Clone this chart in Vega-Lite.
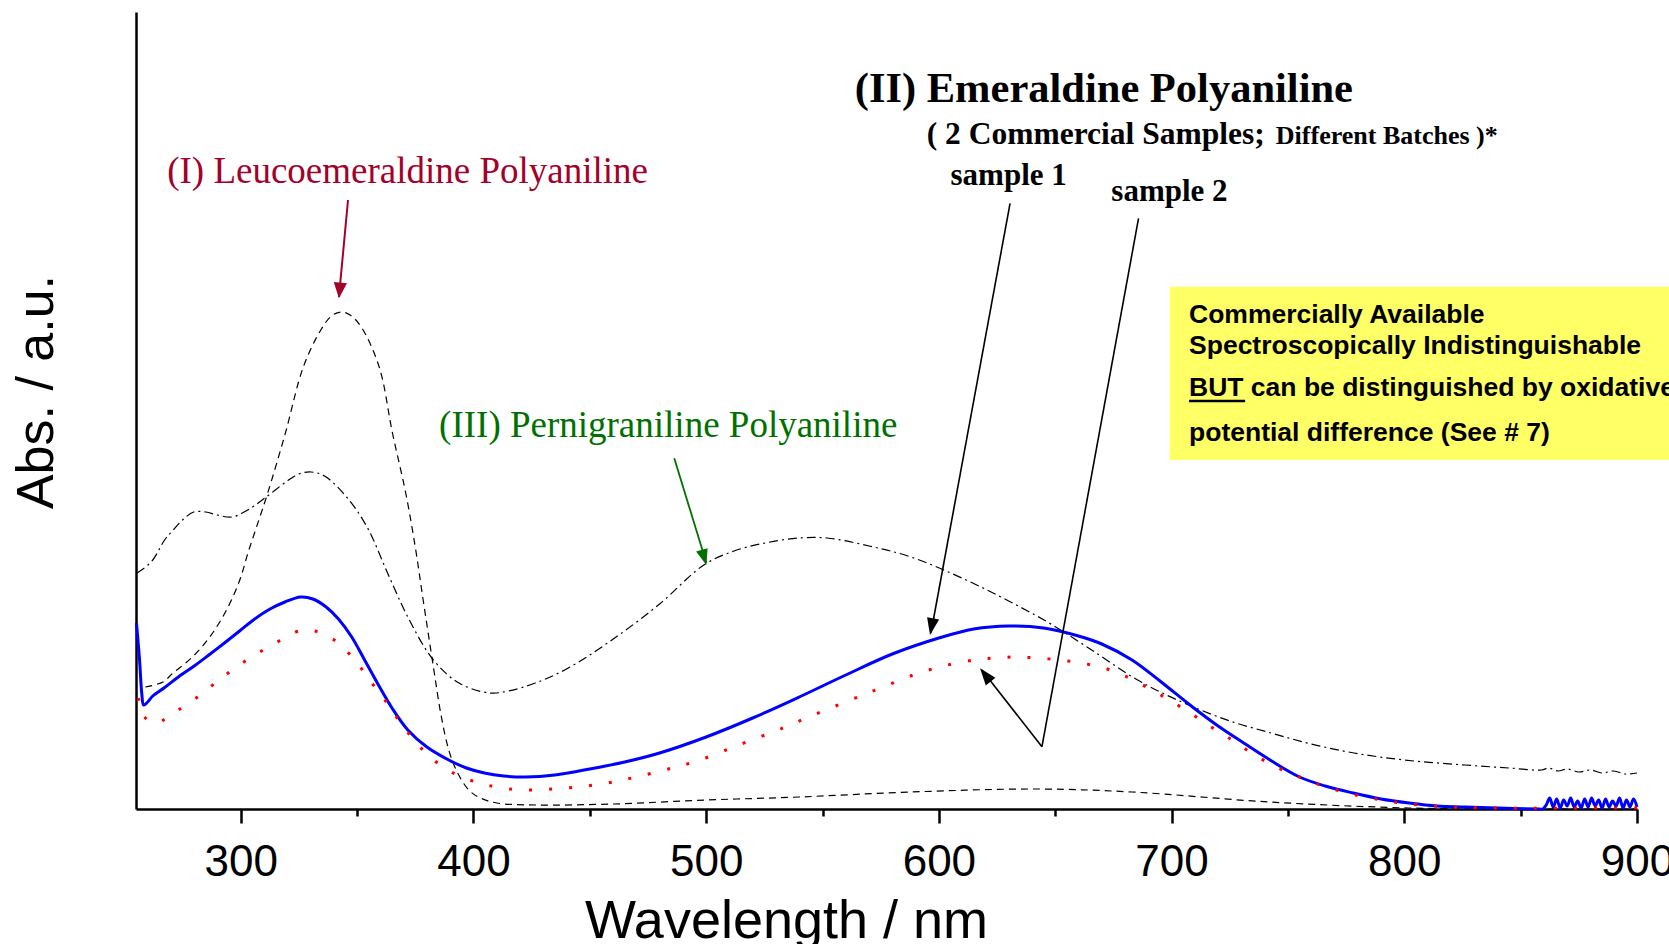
{
  "$schema": "https://vega.github.io/schema/vega-lite/v6.json",
  "width": 1501,
  "height": 797,
  "autosize": {"type": "none"},
  "padding": {"left": 136, "top": 12, "right": 32, "bottom": 135},
  "background": "white",
  "config": {"view": {"stroke": null}},
  "datasets": {
    "leuco": [
      {"x":259,"y":122},{"x":266.6,"y":127},{"x":270.9,"y":136},{"x":278.8,"y":151},{"x":286.7,"y":172},{"x":293.9,"y":199},{"x":299.6,"y":229},{"x":303.1,"y":256},{"x":306.5,"y":280},{"x":311.6,"y":316},{"x":319.2,"y":376},{"x":326.9,"y":442},{"x":334.4,"y":479},{"x":339,"y":493},{"x":343,"y":497},{"x":347,"y":494},{"x":351.8,"y":482},{"x":359.5,"y":442},{"x":365.2,"y":376},{"x":370.9,"y":316},{"x":375,"y":262},{"x":378.4,"y":209},{"x":382.8,"y":142},{"x":386,"y":95},{"x":389.4,"y":59},{"x":393,"y":37},{"x":398,"y":19},{"x":403,"y":11},{"x":410,"y":6},{"x":426.6,"y":4},{"x":460,"y":5},{"x":500,"y":9},{"x":540,"y":12},{"x":588,"y":17},{"x":642,"y":20},{"x":683,"y":17},{"x":742,"y":7},{"x":802,"y":1},{"x":850,"y":0},{"x":900,"y":0}
    ],
    "pern": [
      {"x":255.5,"y":236},{"x":258,"y":240},{"x":262.2,"y":249},{"x":267.3,"y":269},{"x":271,"y":279},{"x":275,"y":289},{"x":279.8,"y":297},{"x":285,"y":297},{"x":290,"y":294},{"x":296.2,"y":292},{"x":303,"y":299},{"x":310.4,"y":311},{"x":320,"y":328},{"x":325,"y":335},{"x":330.2,"y":337},{"x":336,"y":333},{"x":345.5,"y":312},{"x":354.3,"y":282},{"x":363.1,"y":236},{"x":371.8,"y":192},{"x":382.8,"y":149},{"x":393.8,"y":126},{"x":406.9,"y":116},{"x":415,"y":118},{"x":426.6,"y":126},{"x":440,"y":140},{"x":459.5,"y":169},{"x":480,"y":205},{"x":499,"y":244},{"x":512,"y":258},{"x":525.3,"y":266},{"x":540,"y":271},{"x":552,"y":271},{"x":570,"y":263},{"x":588,"y":252},{"x":611.7,"y":229},{"x":630,"y":208},{"x":647.4,"y":186},{"x":665,"y":160},{"x":683.2,"y":132},{"x":696,"y":116},{"x":709.4,"y":102},{"x":725,"y":88},{"x":742.7,"y":76},{"x":760,"y":65},{"x":778.4,"y":56},{"x":800,"y":49},{"x":826.1,"y":44},{"x":845,"y":41},{"x":859,"y":39},{"x":862,"y":41},{"x":866,"y":38},{"x":870,"y":40},{"x":875,"y":37},{"x":880,"y":39},{"x":885,"y":36},{"x":890,"y":38},{"x":895,"y":35},{"x":900,"y":36}
    ],
    "s1": [
      {"x":255.2,"y":186},{"x":256.5,"y":150},{"x":257.5,"y":115},{"x":258.3,"y":104},{"x":260,"y":107},{"x":262.2,"y":113},{"x":267,"y":121},{"x":273.2,"y":132},{"x":280,"y":143},{"x":286.3,"y":154},{"x":293,"y":166},{"x":299.5,"y":178},{"x":306,"y":190},{"x":312.6,"y":200},{"x":319,"y":207},{"x":325.8,"y":212},{"x":331,"y":210},{"x":336.7,"y":202},{"x":342,"y":190},{"x":347.7,"y":172},{"x":353,"y":150},{"x":358.7,"y":126},{"x":365,"y":101},{"x":371.8,"y":79},{"x":380,"y":62},{"x":389.4,"y":49},{"x":397,"y":41},{"x":404.7,"y":36},{"x":413,"y":33},{"x":422.3,"y":32},{"x":435,"y":34},{"x":450,"y":40},{"x":465,"y":47},{"x":480,"y":56},{"x":500,"y":72},{"x":520,"y":91},{"x":540,"y":112},{"x":560,"y":134},{"x":580,"y":155},{"x":600,"y":171},{"x":615,"y":180},{"x":630,"y":183},{"x":645,"y":181},{"x":660,"y":173},{"x":670,"y":165},{"x":683,"y":149},{"x":695,"y":128},{"x":709,"y":102},{"x":720,"y":83},{"x":731,"y":66},{"x":743,"y":48},{"x":755,"y":32},{"x":766,"y":23},{"x":778,"y":16},{"x":790,"y":10},{"x":802,"y":6},{"x":814,"y":3},{"x":826,"y":2},{"x":840,"y":1},{"x":858,"y":0},
      {"x":859.5,"y":0},{"x":861,"y":4},{"x":862.5,"y":11},{"x":864,"y":2},{"x":865.5,"y":10},{"x":867,"y":1},{"x":868.5,"y":9},{"x":870,"y":3},{"x":871.5,"y":11},{"x":873,"y":2},{"x":874.5,"y":8},{"x":876,"y":1},{"x":877.5,"y":10},{"x":879,"y":2},{"x":880.5,"y":11},{"x":882,"y":3},{"x":883.5,"y":9},{"x":885,"y":1},{"x":886.5,"y":10},{"x":888,"y":2},{"x":889.5,"y":8},{"x":891,"y":3},{"x":892.5,"y":11},{"x":894,"y":1},{"x":895.5,"y":9},{"x":897,"y":2},{"x":898.5,"y":10},{"x":900,"y":2}
    ],
    "s2": [
      {"x":256,"y":111},{"x":258,"y":94},{"x":261,"y":88},{"x":264.4,"y":86},{"x":268,"y":91},{"x":273.2,"y":99},{"x":282,"y":113},{"x":289.6,"y":127},{"x":297,"y":140},{"x":306,"y":154},{"x":315,"y":166},{"x":323.6,"y":177},{"x":328,"y":179},{"x":332,"y":178},{"x":337,"y":173},{"x":342,"y":166},{"x":350,"y":146},{"x":355,"y":130},{"x":361,"y":112},{"x":366,"y":95},{"x":371,"y":79},{"x":377,"y":62},{"x":384,"y":47},{"x":393,"y":34},{"x":402.5,"y":26},{"x":410,"y":22},{"x":421,"y":19},{"x":440,"y":21},{"x":455,"y":25},{"x":468,"y":31},{"x":482,"y":39},{"x":496,"y":48},{"x":514,"y":64},{"x":533,"y":81},{"x":543,"y":91},{"x":562,"y":109},{"x":575,"y":121},{"x":589,"y":134},{"x":602,"y":143},{"x":615,"y":149},{"x":624,"y":151},{"x":633,"y":152},{"x":642,"y":151},{"x":652,"y":149},{"x":661,"y":146},{"x":671,"y":141},{"x":680,"y":133},{"x":690,"y":121},{"x":699,"y":109},{"x":708,"y":96},{"x":717,"y":82},{"x":726,"y":69},{"x":735,"y":55},{"x":745,"y":42},{"x":755,"y":32},{"x":764,"y":24},{"x":774,"y":17},{"x":783,"y":12},{"x":793,"y":8},{"x":802,"y":5},{"x":820,"y":2},{"x":838,"y":1},{"x":900,"y":1}
    ]
  },
  "encoding": {
    "x": {
      "field": "x", "type": "quantitative",
      "scale": {"domain": [255, 900], "nice": false, "zero": false},
      "axis": {
        "title": "Wavelength / nm",
        "values": [300,350,400,450,500,550,600,650,700,750,800,850,900],
        "labelExpr": "datum.value % 100 === 0 ? datum.label : ''",
        "tickSize": {"condition": {"test": "datum.value % 100 === 0", "value": 14}, "value": 7},
        "tickWidth": 2.5, "tickColor": "black",
        "domainColor": "black", "domainWidth": 2.5,
        "grid": false,
        "labelFont": "Liberation Sans", "labelFontSize": 44, "labelColor": "black",
        "labelPadding": 17, "labelFlush": false, "labelOverlap": false,
        "titleFont": "Liberation Sans", "titleFontSize": 54, "titleFontWeight": "normal", "titleColor": "black",
        "titleX": 650, "titleY": 128, "titleBaseline": "alphabetic", "titleAlign": "center"
      }
    },
    "y": {
      "field": "y", "type": "quantitative",
      "scale": {"domain": [0, 797], "nice": false, "zero": false},
      "axis": {
        "title": "Abs. / a.u.",
        "ticks": false, "labels": false, "grid": false,
        "domainColor": "black", "domainWidth": 2.5,
        "titleFont": "Liberation Sans", "titleFontSize": 52, "titleFontWeight": "normal", "titleColor": "black",
        "titleX": -84, "titleY": 379.5, "titleAngle": 270, "titleBaseline": "alphabetic", "titleAlign": "center"
      }
    }
  },
  "layer": [
    {
      "data": {"values": [{"x": 699.2, "x2": 930, "y": 349, "y2": 522.3}]},
      "mark": {"type": "rect", "color": "#ffff66"},
      "encoding": {"x2": {"field": "x2"}, "y2": {"field": "y2"}}
    },
    {
      "data": {"name": "leuco"},
      "mark": {"type": "line", "color": "black", "strokeWidth": 1.2, "strokeDash": [7, 5], "interpolate": "catmull-rom"}
    },
    {
      "data": {"name": "pern"},
      "mark": {"type": "line", "color": "black", "strokeWidth": 1.2, "strokeDash": [9, 4, 2, 4], "interpolate": "catmull-rom"}
    },
    {
      "data": {"name": "s1"},
      "mark": {"type": "line", "color": "#0000ff", "strokeWidth": 3, "interpolate": "catmull-rom"}
    },
    {
      "data": {"name": "s2"},
      "mark": {"type": "line", "color": "#ff0000", "strokeWidth": 3, "strokeDash": [3, 17], "interpolate": "catmull-rom"}
    },
    {
      "data": {"values": [{"x": 346.1, "y": 609, "x2": 342.2, "y2": 512}]},
      "mark": {"type": "rule", "color": "#a3002a", "strokeWidth": 2},
      "encoding": {"x2": {"field": "x2"}, "y2": {"field": "y2"}}
    },
    {
      "data": {"values": [{"x": 486.3, "y": 350.7, "x2": 500.1, "y2": 246}]},
      "mark": {"type": "rule", "color": "#007000", "strokeWidth": 1.8},
      "encoding": {"x2": {"field": "x2"}, "y2": {"field": "y2"}}
    },
    {
      "data": {"values": [
        {"x": 630.6, "y": 605.7, "x2": 596.6, "y2": 176},
        {"x": 685.8, "y": 590.7, "x2": 644.3, "y2": 62.3},
        {"x": 644.3, "y": 62.3, "x2": 618.5, "y2": 139}
      ]},
      "mark": {"type": "rule", "color": "black", "strokeWidth": 1.6},
      "encoding": {"x2": {"field": "x2"}, "y2": {"field": "y2"}}
    },
    {
      "data": {"values": [{"x": 342.2, "y": 510.7}]},
      "mark": {"type": "point", "shape": "M0,0L-0.42,1L0.42,1Z", "size": 1000, "filled": true, "opacity": 1, "color": "#a3002a", "angle": 185.2, "strokeWidth": 0}
    },
    {
      "data": {"values": [{"x": 500.1, "y": 244}]},
      "mark": {"type": "point", "shape": "M0,0L-0.38,1L0.38,1Z", "size": 1000, "filled": true, "opacity": 1, "color": "#007000", "angle": 163.3, "strokeWidth": 0}
    },
    {
      "data": {"values": [{"x": 596.2, "y": 174}]},
      "mark": {"type": "point", "shape": "M0,0L-0.36,1L0.36,1Z", "size": 1156, "filled": true, "opacity": 1, "color": "black", "angle": 190.5, "strokeWidth": 0}
    },
    {
      "data": {"values": [{"x": 617.7, "y": 140.7}]},
      "mark": {"type": "point", "shape": "M0,0L-0.36,1L0.36,1Z", "size": 1156, "filled": true, "opacity": 1, "color": "black", "angle": 321.7, "strokeWidth": 0}
    },
    {
      "data": {"values": [{"x": 371.7, "y": 626.3, "t": "(I) Leucoemeraldine Polyaniline"}]},
      "mark": {"type": "text", "font": "Liberation Serif", "fontSize": 37, "color": "#a3002a", "align": "center", "baseline": "alphabetic"},
      "encoding": {"text": {"field": "t"}}
    },
    {
      "data": {"values": [{"x": 483.7, "y": 372.3, "t": "(III) Pernigraniline Polyaniline"}]},
      "mark": {"type": "text", "font": "Liberation Serif", "fontSize": 37, "color": "#007000", "align": "center", "baseline": "alphabetic"},
      "encoding": {"text": {"field": "t"}}
    },
    {
      "data": {"values": [{"x": 670.9, "y": 707, "t": "(II) Emeraldine Polyaniline"}]},
      "mark": {"type": "text", "font": "Liberation Serif", "fontSize": 42.5, "fontWeight": "bold", "color": "black", "align": "center", "baseline": "alphabetic"},
      "encoding": {"text": {"field": "t"}}
    },
    {
      "data": {"values": [{"x": 594.8, "y": 665, "t": "( 2 Commercial Samples;"}]},
      "mark": {"type": "text", "font": "Liberation Serif", "fontSize": 31.5, "fontWeight": "bold", "color": "black", "align": "left", "baseline": "alphabetic"},
      "encoding": {"text": {"field": "t"}}
    },
    {
      "data": {"values": [{"x": 744.8, "y": 665, "t": "Different Batches )*"}]},
      "mark": {"type": "text", "font": "Liberation Serif", "fontSize": 26, "fontWeight": "bold", "color": "black", "align": "left", "baseline": "alphabetic"},
      "encoding": {"text": {"field": "t"}}
    },
    {
      "data": {"values": [{"x": 630.0, "y": 624, "t": "sample 1"}, {"x": 699.1, "y": 608, "t": "sample 2"}]},
      "mark": {"type": "text", "font": "Liberation Serif", "fontSize": 31, "fontWeight": "bold", "color": "black", "align": "center", "baseline": "alphabetic"},
      "encoding": {"text": {"field": "t"}}
    },
    {
      "data": {"values": [
        {"x": 707.5, "y": 485.7, "t": "Commercially Available"},
        {"x": 707.5, "y": 455, "t": "Spectroscopically Indistinguishable"},
        {"x": 707.5, "y": 413, "t": "BUT can be distinguished by oxidative"},
        {"x": 707.5, "y": 368.5, "t": "potential difference (See # 7)"}
      ]},
      "mark": {"type": "text", "font": "Liberation Sans", "fontSize": 26.5, "fontWeight": "bold", "color": "black", "align": "left", "baseline": "alphabetic"},
      "encoding": {"text": {"field": "t"}}
    },
    {
      "data": {"values": [{"x": 707.5, "x2": 731.6, "y": 408}]},
      "mark": {"type": "rule", "color": "black", "strokeWidth": 2.5},
      "encoding": {"x2": {"field": "x2"}}
    }
  ]
}
